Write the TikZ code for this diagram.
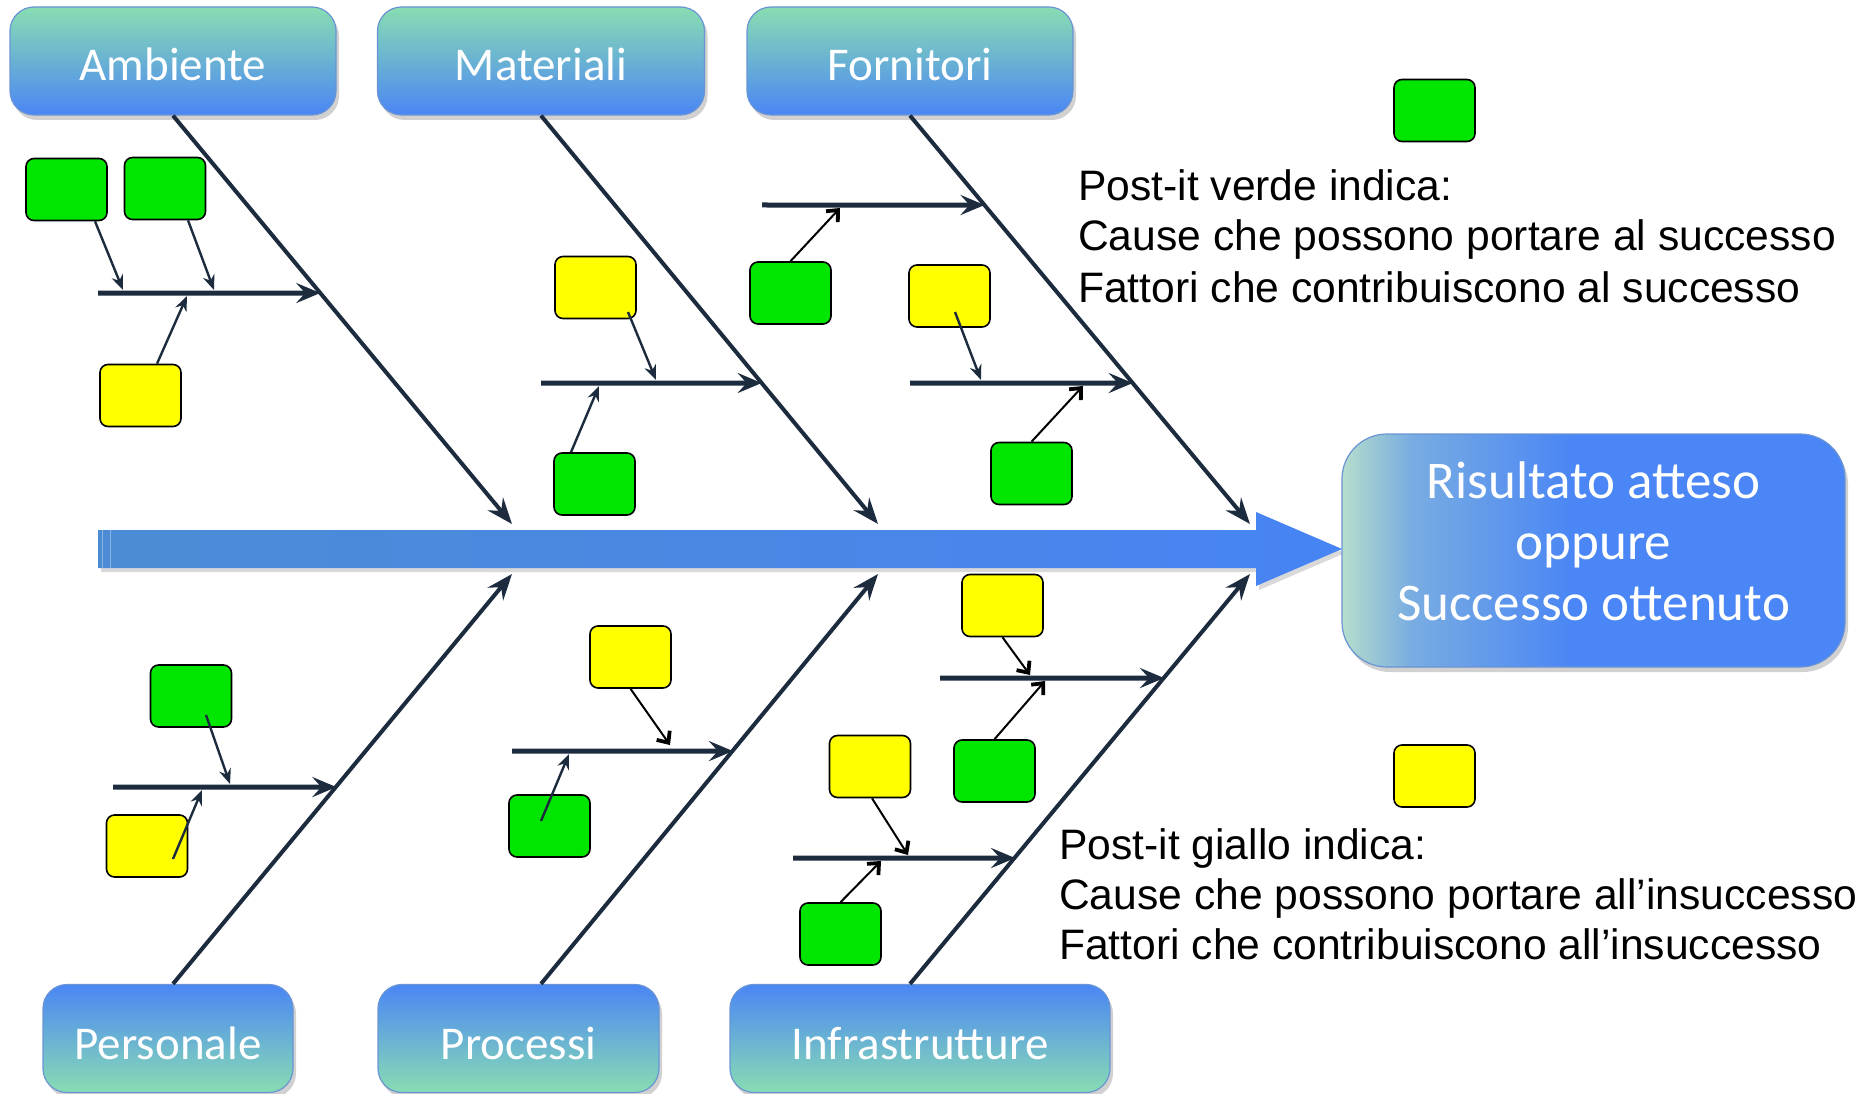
\documentclass[tikz,border=0pt]{standalone}
\usepackage{fontspec}
\setmainfont{Liberation Sans}
\newfontfamily\calib{Carlito}
\usetikzlibrary{arrows.meta,shadows,calc}
\definecolor{mint}{HTML}{88DDB2}
\definecolor{bblue}{HTML}{4A86F5}
\definecolor{bord}{HTML}{6A94D4}
\definecolor{resA}{HTML}{B5DDCC}
\definecolor{resM}{HTML}{78ACE2}
\definecolor{spineA}{HTML}{4C8CD4}
\definecolor{spineB}{HTML}{4784F4}
\definecolor{bone}{HTML}{1C2B3D}
\definecolor{pgreen}{HTML}{00E600}
\definecolor{pyellow}{HTML}{FFFF00}
\pgfdeclarehorizontalshading{resshade}{100bp}{color(0bp)=(resA); color(25bp)=(resA); color(32bp)=(resM); color(48bp)=(bblue); color(100bp)=(bblue)}
\tikzset{
  cat/.style={rounded corners=24pt, draw=bord, line width=1.2pt, minimum height=108pt,
    inner sep=0pt, text=white, font=\calib\fontsize{47}{56}\selectfont,
    text height=40pt, text depth=0pt,
    drop shadow={shadow xshift=3pt, shadow yshift=-5pt, opacity=0.18, fill=black}},
  topcat/.style={cat, top color=mint, bottom color=bblue},
  botcat/.style={cat, top color=bblue, bottom color=mint, text height=42pt},
  res/.style={rounded corners=45pt, draw=bord, line width=1.2pt, minimum width=503pt,
    minimum height=233pt, inner sep=0pt, shading=resshade,
    drop shadow={shadow xshift=3pt, shadow yshift=-5pt, opacity=0.18, fill=black}},
  restext/.style={text=white, align=center, inner sep=0pt,
    font=\calib\fontsize{53}{61}\selectfont},
  note/.style={draw=black, line width=1.6pt, rounded corners=8pt, minimum width=81pt,
    minimum height=62pt, inner sep=0pt},
  gnote/.style={note, fill=pgreen},
  ynote/.style={note, fill=pyellow},
  bonearr/.style={draw=bone, line width=4pt, -{Stealth[length=26pt,width=20pt,inset=9pt]}},
  subarr/.style={draw=bone, line width=5pt, -{Stealth[length=24pt,width=20pt,inset=9pt]}},
  tarr/.style={draw=bone, line width=2.4pt, -{Stealth[length=15pt,width=12pt,inset=5pt]}},
  barr/.style={draw=black, line width=2pt, -{Straight Barb[length=9pt,width=16pt,line width=3.8pt]}},
  legend/.style={anchor=base west, inner sep=0pt, font=\fontsize{42.6}{51}\selectfont},
}
\begin{document}
\begin{tikzpicture}[x=1pt,y=-1pt]
\useasboundingbox[fill=white] (0,0) rectangle (1866,1094);

% spine
\path[left color=spineA, right color=spineB,
  drop shadow={shadow xshift=3pt, shadow yshift=-4pt, opacity=0.15, fill=black}]
  (98,530) -- (1256,530) -- (1256,512) -- (1342,549) -- (1256,586) -- (1256,568) -- (98,568) -- cycle;
\draw[white, opacity=0.35, line width=0.8pt] (102,530) -- (102,568) (110,530) -- (110,568);

% category boxes
\node[topcat, minimum width=326pt] (amb) at (173,61) {Ambiente};
\node[topcat, minimum width=327pt] (mat) at (541,61) {Materiali};
\node[topcat, minimum width=326pt] (forn) at (910,61) {Fornitori};
\node[botcat, minimum width=250pt] (pers) at (168,1038.5) {Personale};
\node[botcat, minimum width=281pt] (proc) at (518.5,1038.5) {Processi};
\node[botcat, minimum width=380pt] (infr) at (920,1038.5) {Infrastrutture};

% result
\node[res] (res) at (1593.5,550.5) {};
\node[restext] (restxt) at (1593.5,541) {Risultato atteso\\oppure\\Successo ottenuto};

% bone ends
\coordinate (ambE) at (512,524);
\coordinate (matE) at (878,524);
\coordinate (fornE) at (1250,524);
\coordinate (persE) at (512,574);
\coordinate (procE) at (878,574);
\coordinate (infrE) at (1250,574);

\draw[bonearr] (amb.south) -- (ambE);
\draw[bonearr] (mat.south) -- (matE);
\draw[bonearr] (forn.south) -- (fornE);
\draw[bonearr] ([xshift=5pt]pers.north) -- (persE);
\draw[bonearr] ([xshift=22.5pt]proc.north) -- (procE);
\draw[bonearr] ([xshift=-10pt]infr.north) -- (infrE);

% sub-bones
\coordinate (ambS) at (98,293);
\coordinate (matS) at (541,383);
\coordinate (fornS1) at (762,205);
\coordinate (fornS2) at (910,383);
\coordinate (persS) at (113,787);
\coordinate (procS) at (512,751);
\coordinate (infrS1) at (940,678);
\coordinate (infrS2) at (793,858);
\coordinate (ambJ) at (intersection of amb.south--ambE and 0,293--1000,293);
\coordinate (matJ) at (intersection of mat.south--matE and 0,383--1000,383);
\coordinate (fornJ1) at (intersection of forn.south--fornE and 0,205--1000,205);
\coordinate (fornJ2) at (intersection of forn.south--fornE and 0,383--1000,383);
\coordinate (persJ) at (intersection of 173,985--persE and 0,787--1000,787);
\coordinate (procJ) at (intersection of 541,985--procE and 0,751--1000,751);
\coordinate (infrJ1) at (intersection of 910,985--infrE and 0,678--1000,678);
\coordinate (infrJ2) at (intersection of 910,985--infrE and 0,858--1000,858);
\draw[subarr] (ambS) -- (ambJ);
\draw[subarr] (matS) -- (matJ);
\draw[subarr] (fornS1) -- (fornJ1);
\draw[subarr] (fornS2) -- (fornJ2);
\draw[subarr] (persS) -- (persJ);
\draw[subarr] (procS) -- (procJ);
\draw[subarr] (infrS1) -- (infrJ1);
\draw[subarr] (infrS2) -- (infrJ2);

% post-it notes
\node[gnote] (ag1) at (66.5,189.5) {};
\node[gnote] (ag2) at (165,188.5) {};
\node[ynote] (ay1) at (140.5,395.5) {};
\node[ynote] (my) at (595.5,287.5) {};
\node[gnote] (mg) at (594.5,484) {};
\node[gnote] (fg1) at (790.5,293) {};
\node[ynote] (fy) at (949.5,296) {};
\node[gnote] (fg2) at (1031.5,473.5) {};
\node[gnote] (pg) at (191,696) {};
\node[ynote] (py) at (147,846) {};
\node[ynote] (ry) at (630.5,657) {};
\node[gnote] (rg) at (549.5,826) {};
\node[ynote] (iy1) at (1002.5,605.5) {};
\node[gnote] (ig1) at (994.5,771) {};
\node[ynote] (iy2) at (870,766.5) {};
\node[gnote] (ig2) at (840.5,934) {};
\node[gnote] (lg) at (1434.5,110.5) {};
\node[ynote] (ly) at (1434.5,776) {};

% arrow targets
\coordinate (tag1) at (123,290);
\coordinate (tag2) at (214,290);
\coordinate (tay1) at (187,296);
\coordinate (tmy) at (656,380);
\coordinate (tmg) at (599,386);
\coordinate (tfg1) at (840,208);
\coordinate (tfy) at (981,380);
\coordinate (tfg2) at (1083,386);
\coordinate (tpg) at (230,784);
\coordinate (tpy) at (202,790);
\coordinate (try) at (670,745);
\coordinate (trg) at (569,754);
\coordinate (tiy1) at (1030,675);
\coordinate (tig1) at (1045,681);
\coordinate (tiy2) at (908,855);
\coordinate (tig2) at (881,861);

\draw[tarr] ([xshift=28.5pt]ag1.south) -- (tag1);
\draw[tarr] ([xshift=23pt]ag2.south) -- (tag2);
\draw[tarr] ([xshift=16.5pt]ay1.north) -- (tay1);
\draw[tarr] ([shift={(32.5,24.5)}]my.center) -- (tmy);
\draw[tarr] ([xshift=-23.5pt]mg.north) -- (tmg);
\draw[barr] (fg1.north) -- (tfg1);
\draw[tarr] ([shift={(5.5,16)}]fy.center) -- (tfy);
\draw[barr] (fg2.north) -- (tfg2);
\draw[tarr] ([shift={(15,19)}]pg.center) -- (tpg);
\draw[tarr] ([shift={(26,13)}]py.center) -- (tpy);
\draw[barr] (ry.south) -- (try);
\draw[tarr] ([shift={(-8.5,-5)}]rg.center) -- (trg);
\draw[barr] (iy1.south) -- (tiy1);
\draw[barr] (ig1.north) -- (tig1);
\draw[barr] ([xshift=2pt]iy2.south) -- (tiy2);
\draw[barr] (ig2.north) -- (tig2);

% legend texts
\node[legend] (lt1) at (1078,201) {Post-it verde indica:};
\node[legend] (lt2) at (1078,251) {Cause che possono portare al successo};
\node[legend] (lt3) at (1078,302) {Fattori che contribuiscono al successo};
\node[legend] (lt4) at (1059,859) {Post-it giallo indica:};
\node[legend] (lt5) at (1059,909) {Cause che possono portare all’insuccesso};
\node[legend] (lt6) at (1059,959) {Fattori che contribuiscono all’insuccesso};
\end{tikzpicture}
\end{document}
